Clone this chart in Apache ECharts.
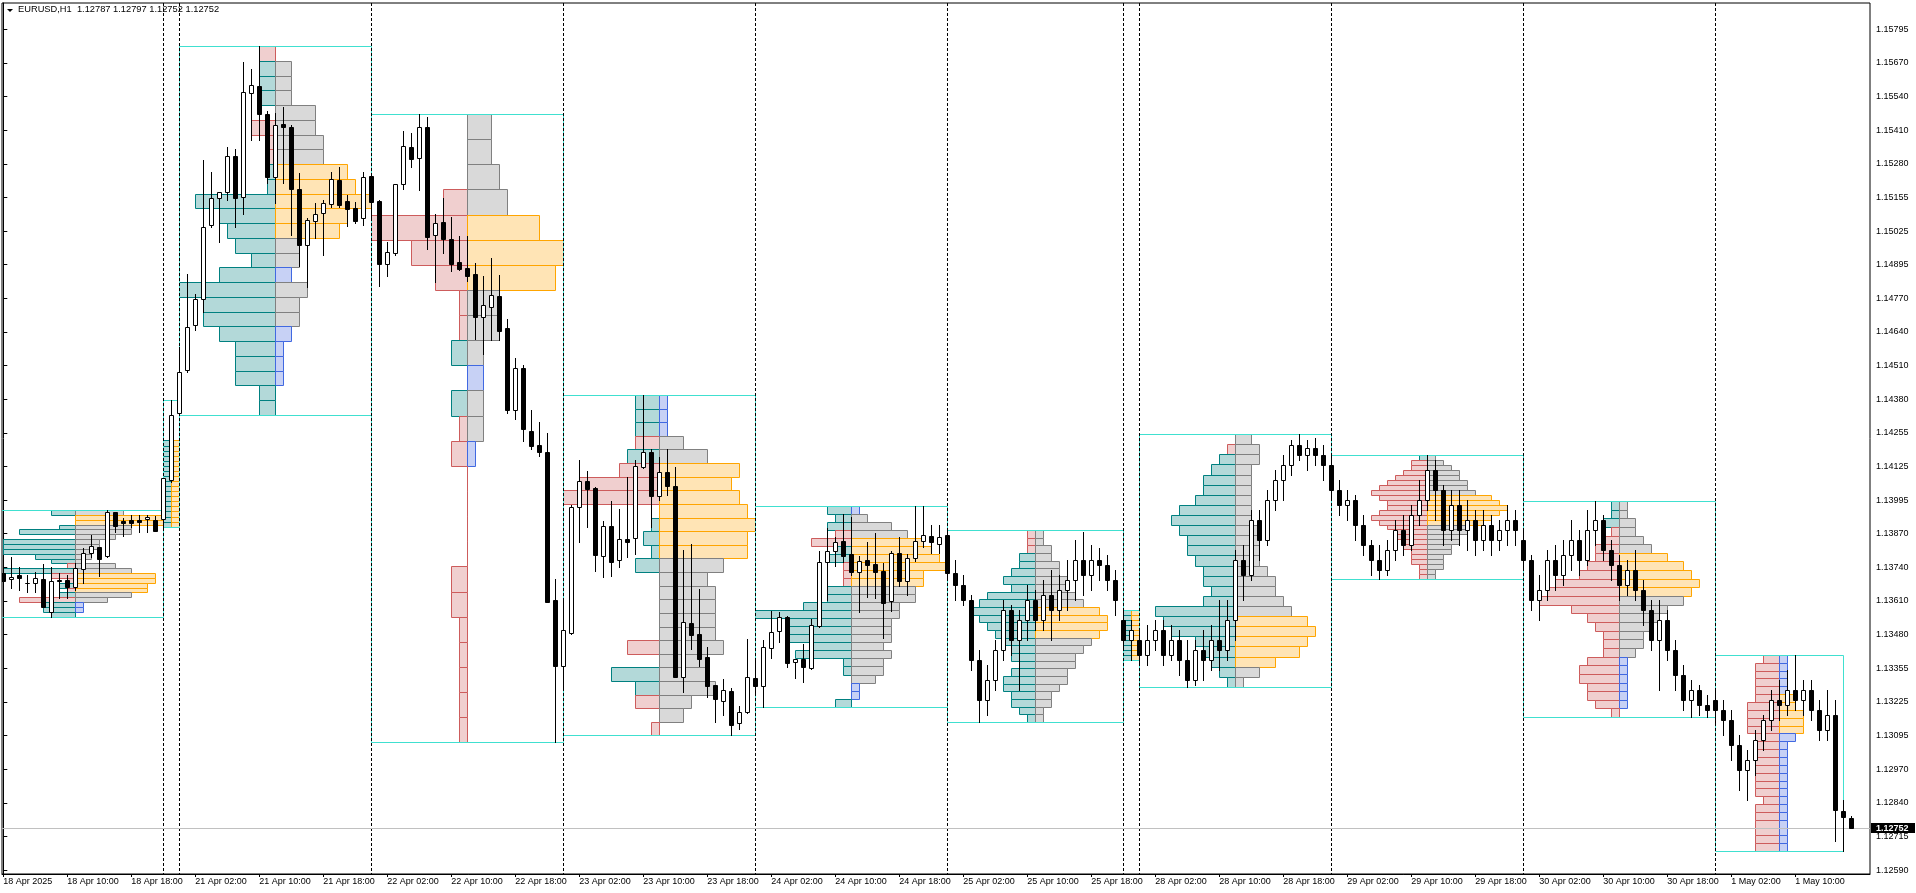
<!DOCTYPE html>
<html><head><meta charset="utf-8">
<script src="https://cdn.jsdelivr.net/npm/echarts@6/dist/echarts.min.js"></script>
<style>html,body{margin:0;padding:0;background:#fff}#c{width:1916px;height:893px}</style>
</head><body><div id="c"></div><script>
// ---------- DATA ----------
const symbolName = 'EURUSD,H1';
const bidPrice = 1.12752;
const xLabels = ['18 Apr 2025','18 Apr 10:00','18 Apr 18:00','21 Apr 02:00','21 Apr 10:00','21 Apr 18:00','22 Apr 02:00','22 Apr 10:00','22 Apr 18:00','23 Apr 02:00','23 Apr 10:00','23 Apr 18:00','24 Apr 02:00','24 Apr 10:00','24 Apr 18:00','25 Apr 02:00','25 Apr 10:00','25 Apr 18:00','28 Apr 02:00','28 Apr 10:00','28 Apr 18:00','29 Apr 02:00','29 Apr 10:00','29 Apr 18:00','30 Apr 02:00','30 Apr 10:00','30 Apr 18:00','1 May 02:00','1 May 10:00'];
const yLabels = ['1.12590','1.12715','1.12840','1.12970','1.13095','1.13225','1.13355','1.13480','1.13610','1.13740','1.13870','1.13995','1.14125','1.14255','1.14380','1.14510','1.14640','1.14770','1.14895','1.15025','1.15155','1.15280','1.15410','1.15540','1.15670','1.15795'];

// candles per session: [open, high, low, close]
const c18 = [[1.13723,1.13753,1.13668,1.13693],[1.13698,1.13784,1.13666,1.13706],[1.13714,1.13744,1.13657,1.13704],[1.13685,1.13714,1.13651,1.13683],[1.13683,1.13725,1.13651,1.13702],[1.13699,1.13756,1.13594,1.13594],[1.13575,1.13744,1.13556,1.13692],[1.13695,1.13721,1.13626,1.13693],[1.13695,1.13713,1.13626,1.13670],[1.13670,1.13759,1.13657,1.13740],[1.13736,1.13819,1.13685,1.13797],[1.13800,1.13867,1.13784,1.13825],[1.13820,1.13823,1.13712,1.13775],[1.13786,1.13962,1.13784,1.13954],[1.13954,1.13954,1.13879,1.13902],[1.13920,1.13931,1.13864,1.13914],[1.13924,1.13943,1.13896,1.13914],[1.13924,1.13943,1.13879,1.13918],[1.13927,1.13943,1.13879,1.13936],[1.13924,1.13939,1.13883,1.13883]];
const c20 = [[1.13927,1.14083,1.13899,1.14083],[1.14077,1.14382,1.14070,1.14325]];
const c21 = [[1.14331,1.14585,1.14325,1.14490],[1.14496,1.14861,1.14487,1.14661],[1.14666,1.14784,1.14648,1.14765],[1.14765,1.15297,1.14718,1.15042],[1.15048,1.15250,1.15042,1.15150],[1.15150,1.15175,1.14985,1.15173],[1.15173,1.15346,1.15145,1.15311],[1.15311,1.15338,1.15042,1.15153],[1.15154,1.15670,1.15092,1.15555],[1.15551,1.15643,1.15374,1.15581],[1.15579,1.15731,1.15373,1.15471],[1.15472,1.15483,1.15208,1.15233],[1.15233,1.15474,1.15131,1.15429],[1.15433,1.15497,1.15210,1.15423],[1.15422,1.15430,1.15011,1.15187],[1.15185,1.15246,1.14892,1.14974],[1.14974,1.15074,1.14813,1.15067],[1.15065,1.15133,1.14999,1.15091],[1.15093,1.15144,1.14934,1.15131],[1.15130,1.15251,1.15118,1.15223],[1.15220,1.15270,1.15118,1.15124],[1.15139,1.15163,1.15045,1.15111],[1.15112,1.15136,1.15055,1.15065],[1.15074,1.15251,1.15049,1.15231]];
const c22 = [[1.15236,1.15240,1.15080,1.15138],[1.15140,1.15144,1.14817,1.14901],[1.14901,1.14983,1.14855,1.14945],[1.14943,1.15206,1.14934,1.15204],[1.15204,1.15407,1.15186,1.15349],[1.15346,1.15399,1.15271,1.15301],[1.15303,1.15472,1.15182,1.15421],[1.15421,1.15460,1.14958,1.15004],[1.15009,1.15091,1.14833,1.15055],[1.15060,1.15152,1.14943,1.14997],[1.14995,1.15079,1.14874,1.14901],[1.14908,1.15007,1.14877,1.14882],[1.14885,1.15007,1.14836,1.14855],[1.14862,1.14903,1.14614,1.14699],[1.14699,1.14854,1.14557,1.14743],[1.14737,1.14923,1.14610,1.14781],[1.14778,1.14858,1.14610,1.14646],[1.14655,1.14690,1.14331,1.14344],[1.14344,1.14541,1.14308,1.14503],[1.14503,1.14515,1.14226,1.14270],[1.14263,1.14344,1.14195,1.14207],[1.14210,1.14298,1.14168,1.14185],[1.14185,1.14255,1.13610,1.13613],[1.13619,1.13699,1.13077,1.13369]];
const c23 = [[1.13369,1.13626,1.13289,1.13505],[1.13492,1.13980,1.13490,1.13974],[1.13975,1.14153,1.13841,1.14073],[1.14073,1.14111,1.13899,1.14044],[1.14046,1.14049,1.13731,1.13792],[1.13788,1.13920,1.13708,1.13901],[1.13901,1.13995,1.13712,1.13765],[1.13771,1.13966,1.13746,1.13851],[1.13852,1.14088,1.13782,1.13841],[1.13854,1.14153,1.13793,1.14129],[1.14127,1.14401,1.14121,1.14183],[1.14183,1.14194,1.13899,1.14017],[1.14017,1.14166,1.14000,1.14106],[1.14107,1.14194,1.14019,1.14055],[1.14054,1.14125,1.13327,1.13327],[1.13327,1.13810,1.13270,1.13534],[1.13532,1.13833,1.13434,1.13486],[1.13490,1.13661,1.13369,1.13395],[1.13402,1.13440,1.13248,1.13293],[1.13295,1.13295,1.13153,1.13241],[1.13233,1.13318,1.13182,1.13275],[1.13271,1.13284,1.13103,1.13144],[1.13149,1.13214,1.13129,1.13191],[1.13193,1.13471,1.13190,1.13325]];
const c24 = [[1.13321,1.13387,1.13264,1.13293],[1.13293,1.13467,1.13213,1.13439],[1.13435,1.13578,1.13397,1.13496],[1.13500,1.13572,1.13460,1.13553],[1.13554,1.13558,1.13365,1.13380],[1.13384,1.13393,1.13323,1.13393],[1.13394,1.13452,1.13308,1.13365],[1.13361,1.13546,1.13356,1.13523],[1.13521,1.13805,1.13517,1.13763],[1.13763,1.13893,1.13619,1.13805],[1.13805,1.13861,1.13749,1.13841],[1.13844,1.13947,1.13765,1.13788],[1.13795,1.13937,1.13715,1.13727],[1.13725,1.13788,1.13574,1.13767],[1.13772,1.13841,1.13632,1.13754],[1.13756,1.13876,1.13628,1.13727],[1.13729,1.13759,1.13476,1.13609],[1.13614,1.13806,1.13578,1.13797],[1.13797,1.13859,1.13674,1.13693],[1.13693,1.13795,1.13637,1.13778],[1.13778,1.13978,1.13769,1.13845],[1.13845,1.13978,1.13820,1.13866],[1.13862,1.13905,1.13797,1.13841],[1.13832,1.13905,1.13797,1.13861]];
const c25 = [[1.13867,1.13886,1.13706,1.13723],[1.13722,1.13772,1.13619,1.13676],[1.13676,1.13714,1.13600,1.13619],[1.13619,1.13638,1.13352,1.13391],[1.13391,1.13429,1.13154,1.13238],[1.13238,1.13372,1.13181,1.13314],[1.13314,1.13467,1.13276,1.13429],[1.13429,1.13619,1.13391,1.13581],[1.13581,1.13600,1.13410,1.13467],[1.13467,1.13581,1.13276,1.13543],[1.13543,1.13676,1.13467,1.13619],[1.13619,1.13657,1.13505,1.13543],[1.13543,1.13696,1.13505,1.13638],[1.13638,1.13734,1.13467,1.13581],[1.13581,1.13714,1.13543,1.13657],[1.13657,1.13772,1.13581,1.13696],[1.13696,1.13848,1.13619,1.13772],[1.13772,1.13878,1.13638,1.13714],[1.13714,1.13829,1.13657,1.13772],[1.13772,1.13817,1.13696,1.13753],[1.13753,1.13791,1.13657,1.13696],[1.13696,1.13734,1.13562,1.13619]];
const c27 = [[1.13543,1.13581,1.13429,1.13467],[1.13467,1.13543,1.13391,1.13505]];
const c28 = [[1.13467,1.13505,1.13372,1.13410],[1.13410,1.13524,1.13372,1.13467],[1.13467,1.13543,1.13429,1.13505],[1.13505,1.13543,1.13372,1.13410],[1.13410,1.13524,1.13391,1.13467],[1.13467,1.13505,1.13333,1.13391],[1.13391,1.13467,1.13288,1.13314],[1.13314,1.13467,1.13295,1.13429],[1.13429,1.13505,1.13314,1.13391],[1.13391,1.13524,1.13352,1.13467],[1.13467,1.13619,1.13352,1.13429],[1.13429,1.13619,1.13391,1.13543],[1.13543,1.13810,1.13467,1.13772],[1.13772,1.13829,1.13619,1.13714],[1.13714,1.13962,1.13696,1.13924],[1.13924,1.13962,1.13772,1.13848],[1.13848,1.14039,1.13829,1.14000],[1.14000,1.14115,1.13962,1.14077],[1.14077,1.14172,1.14000,1.14134],[1.14134,1.14229,1.14096,1.14210],[1.14210,1.14252,1.14153,1.14172],[1.14172,1.14229,1.14115,1.14199],[1.14199,1.14237,1.14134,1.14172],[1.14172,1.14210,1.14077,1.14134]];
const c29 = [[1.14134,1.14172,1.14000,1.14039],[1.14039,1.14077,1.13943,1.13981],[1.13981,1.14039,1.13924,1.14000],[1.14000,1.14020,1.13848,1.13905],[1.13905,1.13943,1.13791,1.13829],[1.13829,1.13848,1.13714,1.13772],[1.13772,1.13829,1.13699,1.13734],[1.13734,1.13848,1.13714,1.13810],[1.13810,1.13924,1.13772,1.13886],[1.13886,1.13943,1.13791,1.13829],[1.13829,1.13981,1.13810,1.13943],[1.13943,1.14077,1.13905,1.14000],[1.14000,1.14172,1.13962,1.14115],[1.14115,1.14153,1.13924,1.14039],[1.14039,1.14058,1.13829,1.13886],[1.13886,1.14039,1.13848,1.13981],[1.13981,1.14039,1.13829,1.13886],[1.13886,1.14000,1.13810,1.13924],[1.13924,1.13962,1.13791,1.13848],[1.13848,1.13962,1.13810,1.13905],[1.13905,1.13943,1.13791,1.13848],[1.13848,1.13924,1.13810,1.13886],[1.13886,1.13981,1.13829,1.13924],[1.13924,1.13962,1.13829,1.13886]];
const c30 = [[1.13848,1.13886,1.13734,1.13772],[1.13772,1.13791,1.13581,1.13619],[1.13619,1.13714,1.13543,1.13657],[1.13657,1.13810,1.13619,1.13772],[1.13772,1.13829,1.13657,1.13714],[1.13714,1.13848,1.13676,1.13791],[1.13791,1.13924,1.13734,1.13848],[1.13848,1.13886,1.13714,1.13772],[1.13772,1.13962,1.13753,1.13886],[1.13886,1.13997,1.13829,1.13924],[1.13924,1.13943,1.13772,1.13810],[1.13810,1.13848,1.13696,1.13753],[1.13753,1.13791,1.13619,1.13676],[1.13676,1.13772,1.13638,1.13734],[1.13734,1.13810,1.13619,1.13657],[1.13657,1.13696,1.13524,1.13581],[1.13581,1.13619,1.13429,1.13467],[1.13467,1.13619,1.13276,1.13543],[1.13543,1.13581,1.13391,1.13429],[1.13429,1.13467,1.13276,1.13333],[1.13333,1.13372,1.13200,1.13238],[1.13238,1.13314,1.13173,1.13276],[1.13276,1.13295,1.13181,1.13219],[1.13219,1.13257,1.13173,1.13200]];
const c01 = [[1.13238,1.13276,1.13143,1.13200],[1.13200,1.13238,1.13105,1.13162],[1.13162,1.13200,1.13009,1.13067],[1.13067,1.13105,1.12895,1.12971],[1.12971,1.13047,1.12857,1.13009],[1.13009,1.13124,1.12952,1.13086],[1.13086,1.13181,1.13047,1.13162],[1.13162,1.13276,1.13124,1.13238],[1.13238,1.13314,1.13162,1.13219],[1.13219,1.13352,1.13181,1.13276],[1.13276,1.13410,1.13200,1.13238],[1.13238,1.13314,1.13181,1.13276],[1.13276,1.13314,1.13162,1.13200],[1.13200,1.13238,1.13086,1.13124],[1.13124,1.13276,1.13086,1.13181],[1.13181,1.13238,1.12701,1.12819],[1.12815,1.12857,1.12662,1.12792],[1.12787,1.12797,1.12752,1.12752]];

// session start / end (bar index of session open; end = next session open)
const sessStart = [-2, 20, 22, 46, 70, 94, 118, 140, 142, 166, 190, 214];
const sessEnd   = [20, 22, 46, 70, 94, 118, 140, 142, 166, 190, 214, 230];
const sessCandles = [c18, c20, c21, c22, c23, c24, c25, c27, c28, c29, c30, c01];

// volume profile rows (top -> bottom). left volume / kind, right volume / kind
// kinds: t = buy-dominant, p = sell-dominant (left); g = normal, b = weak, o = value area (right); . = none
const pL = [
 [3,0,0,2,7,0,9,9,9,5,3,1,9,3,1,2,1,2,7,4,4,3],
 [0,0,0,0,0,0,0,0,1,1,1,1,1,1,1,1,1,1,1,1,1,1,1,1,1],
 [2,2,2,2,0,3,1,1,1,1,10,7,6,5,3,7,12,9,9,7,5,5,5,2,2],
 [0,0,0,3,12,7,4,1,1,2,0,2,1,2,0,0,0,0,2,2,1,1,1,1,1],
 [3,3,3,3,4,5,10,12,0,1,2,1,3,0,0,0,0,0,4,0,6,3,3,0,1],
 [3,2,3,2,5,2,3,1,1,1,3,3,6,12,8,8,8,5,7,1,1,0,0,0,2],
 [1,1,1,2,2,3,4,3,6,7,8,7,6,5,4,3,3,2,3,4,4,3,3,2,1],
 [1,1,1,1,1,1,1,1,1,1],
 [0,1,2,3,4,4,5,7,8,7,6,6,5,4,4,3,4,10,9,8,5,4,3,2,1],
 [1,2,2,3,4,5,6,7,6,5,5,6,7,6,5,4,4,3,3,2,2,2,1,1,1],
 [1,1,2,1,2,3,3,4,5,8,9,10,6,4,3,2,2,2,4,5,5,4,4,3,1],
 [2,3,3,3,3,3,4,4,4,4,3,3,3,3,3,3,3,3,2,3,3,3,3,3,3]
];
const pLk = [
 't..tt.tttttptpptptpttt',
 '........ttttttttttttttttt',
 'pttt.ppp'+'ttttttttttttttttt',
 'tttpppppptttppppppppppppp',
 'tttptppp'+'p'+'tttt'+'ppptt'+'p'+'ttt'+'ppp',
 'tttpptt'+'ppp'+'ttttttttttt'+'ppp'+'t',
 'ppp'+'tttttttttttttttttttttt',
 'tttttttttt',
 'pp'+'ttttttttttttttttttttttt',
 't'+'pppppppppppppppppppppppp',
 'ttt'+'pppppppppppppppppppppp',
 'ppppppppppppppppppppppppp'
];
const pR = [
 [6,11,11,7,7,5,3,3,2,2,1,5,7,10,10,9,9,7,4,1,1,0],
 [0,0,0,0,0,0,0,0,1,1,1,1,1,1,1,1,1,1,1,1,1,1,1,1,1],
 [0,2,2,2,5,5,6,6,9,10,12,9,8,3,3,2,4,3,3,2,1,1,1,0,0],
 [3,3,4,5,9,12,11,4,4,2,2,2,2,1,0,0,0,0,0,0,0,0,0,0,0],
 [1,1,1,3,6,10,9,10,11,12,11,11,8,6,7,7,7,7,8,6,6,7,4,3,0],
 [1,2,5,7,9,10,11,12,9,9,8,8,6,6,5,5,5,4,5,4,4,3,1,1,0],
 [1,1,2,2,3,3,4,4,5,6,8,9,9,8,7,6,5,5,4,4,3,2,2,1,1],
 [1,1,1,1,1,1,1,1,1,1],
 [2,3,3,2,2,2,2,2,2,3,3,3,3,4,5,5,6,7,9,10,9,8,5,3,1],
 [1,2,3,4,4,5,5,6,8,9,10,9,8,7,5,5,4,4,3,3,2,2,2,1,1],
 [1,1,2,2,3,4,6,8,9,10,9,8,6,5,4,3,3,2,1,1,1,1,1,1,0],
 [1,1,1,1,1,2,2,3,3,3,2,1,1,1,1,1,1,1,1,1,1,1,1,1,1]
];
const pRk = [
 'googgggggggggooooggbb.',
 '........ooooooooooooooooo',
 '.ggggggg'+'ooooo'+'ggbgggbbbb'+'..',
 'gggg'+'ooo'+'ggg'+'b'+'gg'+'b'+'...........',
 'bbbgg'+'ooooooo'+'gggggggggggg'+'.',
 'bggg'+'oooooo'+'gggggggggggg'+'bb'+'.',
 'gggggggggg'+'oooo'+'ggggggggggg',
 'oooooooooo',
 'gggggggggggggggggg'+'ooooo'+'gg',
 'gggggggg'+'oooooo'+'ggggggggggg',
 'gggggg'+'ooooo'+'ggggggg'+'bbbbbb'+'.',
 'bbbbbooooo'+'bbbbbbbbbbbbbbb'
];

// ---------- BUILD ----------
const bars = [];
const sessions = [];
let k = 0;
sessCandles.forEach((cs, si) => {
  let hi = -Infinity, lo = Infinity;
  cs.forEach(c => { bars.push([k, c[0], c[1], c[2], c[3]]); hi = Math.max(hi, c[1]); lo = Math.min(lo, c[2]); k++; });
  sessions.push({start: sessStart[si], end: sessEnd[si], hi, lo, L: pL[si], Lk: pLk[si], R: pR[si], Rk: pRk[si]});
});
const last = sessCandles[sessCandles.length - 1].slice(-1)[0];
const sepBars = sessStart.filter(v => v >= 0);
const yStep = (parseFloat(yLabels[yLabels.length-1]) - parseFloat(yLabels[0])) / (yLabels.length - 1);
const yTickVals = yLabels.map((s, i) => parseFloat(yLabels[0]) + i * yStep);
const xTickVals = xLabels.map((s, i) => i * 8);

const FILL = {t:'#b3d9d9', p:'#f0cfcf', g:'#d9d9d9', b:'#c7d1f5', o:'#ffe4b5'};
const EDGE = {t:'#008080', p:'#cd5c5c', g:'#808080', b:'#4169e1', o:'#ffa500'};
const PX = v => Math.round(v) + 0.5;
const FONT = 'Liberation Sans';

function renderProfile(params, api) {
  const s = sessions[api.value(0)];
  const n = s.L.length;
  const step = (s.hi - s.lo) / n;
  const mid = (s.start + s.end) / 2;
  const kids = [];
  for (let i = 0; i < n; i++) {
    const top = s.hi - i * step, bot = top - step;
    const pT = api.coord([mid, top]), pB = api.coord([mid, bot]);
    const yT = PX(pT[1]), yB = PX(pB[1]), xm = PX(pT[0]);
    const lk = s.Lk[i], rk = s.Rk[i];
    if (lk && lk !== '.') {
      const xl = PX(api.coord([mid - s.L[i], top])[0]);
      kids.push({type:'rect', shape:{x:xl, y:yT, width:xm - xl, height:yB - yT}, style:{fill:FILL[lk], stroke:EDGE[lk], lineWidth:1}});
    }
    if (rk && rk !== '.') {
      const xr = PX(api.coord([mid + s.R[i], top])[0]);
      kids.push({type:'rect', shape:{x:xm, y:yT, width:xr - xm, height:yB - yT}, style:{fill:FILL[rk], stroke:EDGE[rk], lineWidth:1}});
    }
  }
  const b0 = api.coord([s.start, s.hi]), b1 = api.coord([s.end, s.lo]);
  kids.push({type:'rect', shape:{x:PX(b0[0]), y:PX(b0[1]), width:PX(b1[0]) - PX(b0[0]), height:PX(b1[1]) - PX(b0[1])}, style:{fill:'none', stroke:'#40e0d0', lineWidth:1}});
  return {type:'group', children:kids};
}

function renderCandle(params, api) {
  const x = api.value(0), o = api.value(1), h = api.value(2), l = api.value(3), c = api.value(4);
  const pO = api.coord([x, o]), pC = api.coord([x, c]), pH = api.coord([x, h]), pL2 = api.coord([x, l]);
  const xc = PX(pO[0]);
  const half = Math.round(api.size([1, 0])[0] * 0.25);
  const yTop = PX(Math.min(pO[1], pC[1])), yBot = PX(Math.max(pO[1], pC[1]));
  const bull = c >= o;
  return {type:'group', children:[
    {type:'line', shape:{x1:xc, y1:Math.round(pH[1]), x2:xc, y2:Math.round(pL2[1]) + 1}, style:{stroke:'#000', lineWidth:1}},
    {type:'rect', shape:{x:xc - half, y:yTop, width:half * 2, height:yBot - yTop}, style:{fill: bull ? '#fff' : '#000', stroke:'#000', lineWidth:1}}
  ]};
}

function renderSep(params, api) {
  const cs = params.coordSys;
  const x = PX(api.coord([api.value(0), 1.14])[0]);
  return {type:'line', shape:{x1:x, y1:cs.y, x2:x, y2:cs.y + cs.height}, style:{stroke:'#000', lineWidth:1, lineDash:[3,2]}};
}

function renderBid(params, api) {
  const cs = params.coordSys;
  const v = api.value(1);
  const y = PX(api.coord([0, v])[1]);
  const xr = cs.x + cs.width;
  return {type:'group', children:[
    {type:'line', shape:{x1:cs.x, y1:y, x2:xr, y2:y}, style:{stroke:'#c0c0c0', lineWidth:1}},
    {type:'rect', shape:{x:xr + 1, y:y - 5.5, width:44, height:10}, style:{fill:'#000'}},
    {type:'text', x:xr + 6, y:y, style:{text:v.toFixed(5), fill:'#fff', font:'bold 9px "Liberation Sans"', align:'left', verticalAlign:'middle'}}
  ]};
}

const chart = echarts.init(document.getElementById('c'), null, {renderer:'canvas'});
chart.setOption({
  animation:false,
  backgroundColor:'#fff',
  grid:{left:2, right:46, top:3, bottom:19, show:true, borderColor:'#000', borderWidth:1, backgroundColor:'#fff'},
  xAxis:{
    type:'value', min:-0.1625, max:233.3375,
    axisLine:{show:true, lineStyle:{color:'#000', width:1}},
    splitLine:{show:false},
    axisTick:{show:true, customValues:xTickVals, length:3, lineStyle:{color:'#000'}},
    axisLabel:{customValues:xTickVals, formatter:v => xLabels[Math.round(v / 8)] || '', align:'left', margin:3, fontSize:9, fontFamily:FONT, color:'#000'}
  },
  yAxis:{
    type:'value', position:'right', min:1.12575, max:1.15895, scale:true,
    axisLine:{show:true, lineStyle:{color:'#000', width:1}},
    splitLine:{show:false},
    axisTick:{show:true, customValues:yTickVals, length:4, lineStyle:{color:'#000'}},
    axisLabel:{customValues:yTickVals, formatter:v => yLabels[Math.round((v - yTickVals[0]) / yStep)] || '', margin:6, fontSize:9, fontFamily:FONT, color:'#000'}
  },
  graphic:[
    {type:'polygon', shape:{points:[[7,9],[13,9],[10,12]]}, style:{fill:'#000'}},
    {type:'text', left:18, top:5, style:{text:symbolName + '  ' + last.map(v => v.toFixed(5)).join(' '), font:'9.3px "Liberation Sans"', fill:'#000'}}
  ],
  series:[
    {type:'custom', name:'profiles', renderItem:renderProfile, data:sessions.map((s, i) => [i]), clip:true, silent:true, z:2},
    {type:'custom', name:'separators', renderItem:renderSep, data:sepBars.map(v => [v]), clip:true, silent:true, z:3},
    {type:'custom', name:'bid', renderItem:renderBid, data:[[0, bidPrice]], clip:false, silent:true, z:4},
    {type:'custom', name:'candles', renderItem:renderCandle, dimensions:['k','o','h','l','c'], encode:{x:0, y:[1,2,3,4]}, data:bars, clip:true, silent:true, z:5}
  ]
});
</script></body></html>
